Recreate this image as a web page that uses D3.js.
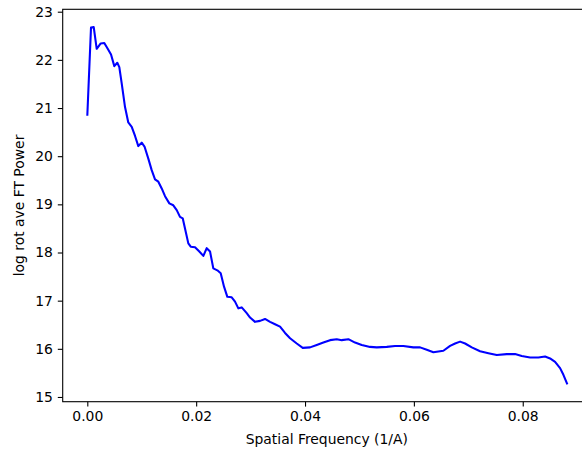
<!DOCTYPE html>
<html>
<head>
<meta charset="utf-8">
<script src="https://cdn.jsdelivr.net/npm/d3@7"></script>
<style>
  body { margin: 0; background: #fff; }
  svg { display: block; font-family: "DejaVu Sans", sans-serif; }
</style>
</head>
<body>
<script>
// rotational average FT power
const freq = [
  0.00000, 0.00068, 0.00118, 0.00173, 0.00246, 0.00312, 0.00375, 0.00436, 0.00496, 0.00551,
  0.00588, 0.00632, 0.00693, 0.00753, 0.00816, 0.00877, 0.00937, 0.01000, 0.01051, 0.01121,
  0.01183, 0.01244, 0.01305, 0.01367, 0.01428, 0.01507, 0.01580, 0.01643, 0.01703, 0.01753,
  0.01795, 0.01856, 0.01900, 0.01979, 0.02058, 0.02132, 0.02194, 0.02255, 0.02315, 0.02389,
  0.02451, 0.02512, 0.02573, 0.02653, 0.02714, 0.02775, 0.02837, 0.02929, 0.02990, 0.03082,
  0.03174, 0.03265, 0.03357, 0.03449, 0.03541, 0.03633, 0.03725, 0.03848, 0.03958, 0.04092,
  0.04215, 0.04337, 0.04460, 0.04583, 0.04675, 0.04796, 0.04919, 0.05042, 0.05195, 0.05318,
  0.05502, 0.05654, 0.05807, 0.05990, 0.06114, 0.06237, 0.06358, 0.06542, 0.06665, 0.06757,
  0.06849, 0.06941, 0.07064, 0.07216, 0.07369, 0.07523, 0.07707, 0.07859, 0.07982, 0.08135,
  0.08287, 0.08411, 0.08502, 0.08594, 0.08686, 0.08747, 0.08820
]
const power = [
  20.84, 22.67, 22.68, 22.23, 22.34, 22.35, 22.23, 22.11, 21.87, 21.94,
  21.85, 21.51, 21.02, 20.70, 20.61, 20.42, 20.21, 20.28, 20.20, 19.95,
  19.71, 19.52, 19.47, 19.33, 19.17, 19.02, 18.98, 18.88, 18.74, 18.71,
  18.50, 18.19, 18.12, 18.11, 18.02, 17.93, 18.09, 18.02, 17.67, 17.63,
  17.57, 17.29, 17.08, 17.07, 16.98, 16.84, 16.86, 16.74, 16.65, 16.56,
  16.58, 16.62, 16.56, 16.51, 16.46, 16.33, 16.22, 16.11, 16.02, 16.03,
  16.08, 16.13, 16.18, 16.20, 16.18, 16.20, 16.13, 16.08, 16.04, 16.03,
  16.04, 16.06, 16.06, 16.03, 16.03, 15.98, 15.93, 15.96, 16.06, 16.11,
  16.15, 16.11, 16.03, 15.95, 15.91, 15.87, 15.89, 15.89, 15.85, 15.82,
  15.82, 15.84, 15.80, 15.73, 15.60, 15.46, 15.26
]
const xTicks = [0, 0.02, 0.04, 0.06, 0.08]
const yTicks = [15, 16, 17, 18, 19, 20, 21, 22, 23]

const width = 582, height = 450
// plot box (right edge falls just outside the picture)
const margin = {top: 9.3, left: 62.7, right: 591, bottom: 401.7}

const data = freq.map((f, i) => ({f: f, p: power[i]}))

const svg = d3.select('body').append('svg')
    .attr('width', width)
    .attr('height', height)

const xScale = d3.scaleLinear()
    .domain([-0.00452, 0.09254])
    .range([margin.left, margin.right])

const yScale = d3.scaleLinear()
    .domain([14.902, 23.05])
    .range([margin.bottom, margin.top])

const xAxis = svg.append('g')
    .attr('transform', 'translate(0,' + margin.bottom + ')')
    .call(d3.axisBottom(xScale).tickValues(xTicks).tickFormat(d3.format('.2f'))
      .tickSizeInner(4.9).tickSizeOuter(0).tickPadding(4.9))

const yAxis = svg.append('g')
    .attr('transform', 'translate(' + margin.left + ',0)')
    .call(d3.axisLeft(yScale).tickValues(yTicks).tickFormat(d3.format('d'))
      .tickSizeInner(4.9).tickSizeOuter(0).tickPadding(4.9))

svg.selectAll('.tick text')
    .style('font-size', '13.9px')
    .style('font-family', '"DejaVu Sans", sans-serif')
    .attr('fill', '#000')
svg.selectAll('.tick line').attr('stroke', '#000').attr('stroke-width', 1.1)
svg.selectAll('.domain').remove()

// frame
svg.append('rect')
    .attr('x', margin.left)
    .attr('y', margin.top)
    .attr('width', margin.right - margin.left)
    .attr('height', margin.bottom - margin.top)
    .attr('fill', 'none')
    .attr('stroke', '#000')
    .attr('stroke-width', 1.1)

const line = d3.line()
    .x(d => xScale(d.f))
    .y(d => yScale(d.p))

svg.append('path')
    .datum(data)
    .attr('d', line)
    .attr('fill', 'none')
    .attr('stroke', 'blue')
    .attr('stroke-width', 2.08)
    .attr('stroke-linejoin', 'round')

svg.append('text')
    .attr('x', (margin.left + margin.right) / 2)
    .attr('y', 444)
    .attr('text-anchor', 'middle')
    .style('font-size', '13.9px')
    .text('Spatial Frequency (1/A)')

svg.append('text')
    .attr('transform', 'translate(24,' + ((margin.top + margin.bottom) / 2) + ')rotate(-90)')
    .attr('text-anchor', 'middle')
    .style('font-size', '13.9px')
    .text('log rot ave FT Power')
</script>
</body>
</html>
